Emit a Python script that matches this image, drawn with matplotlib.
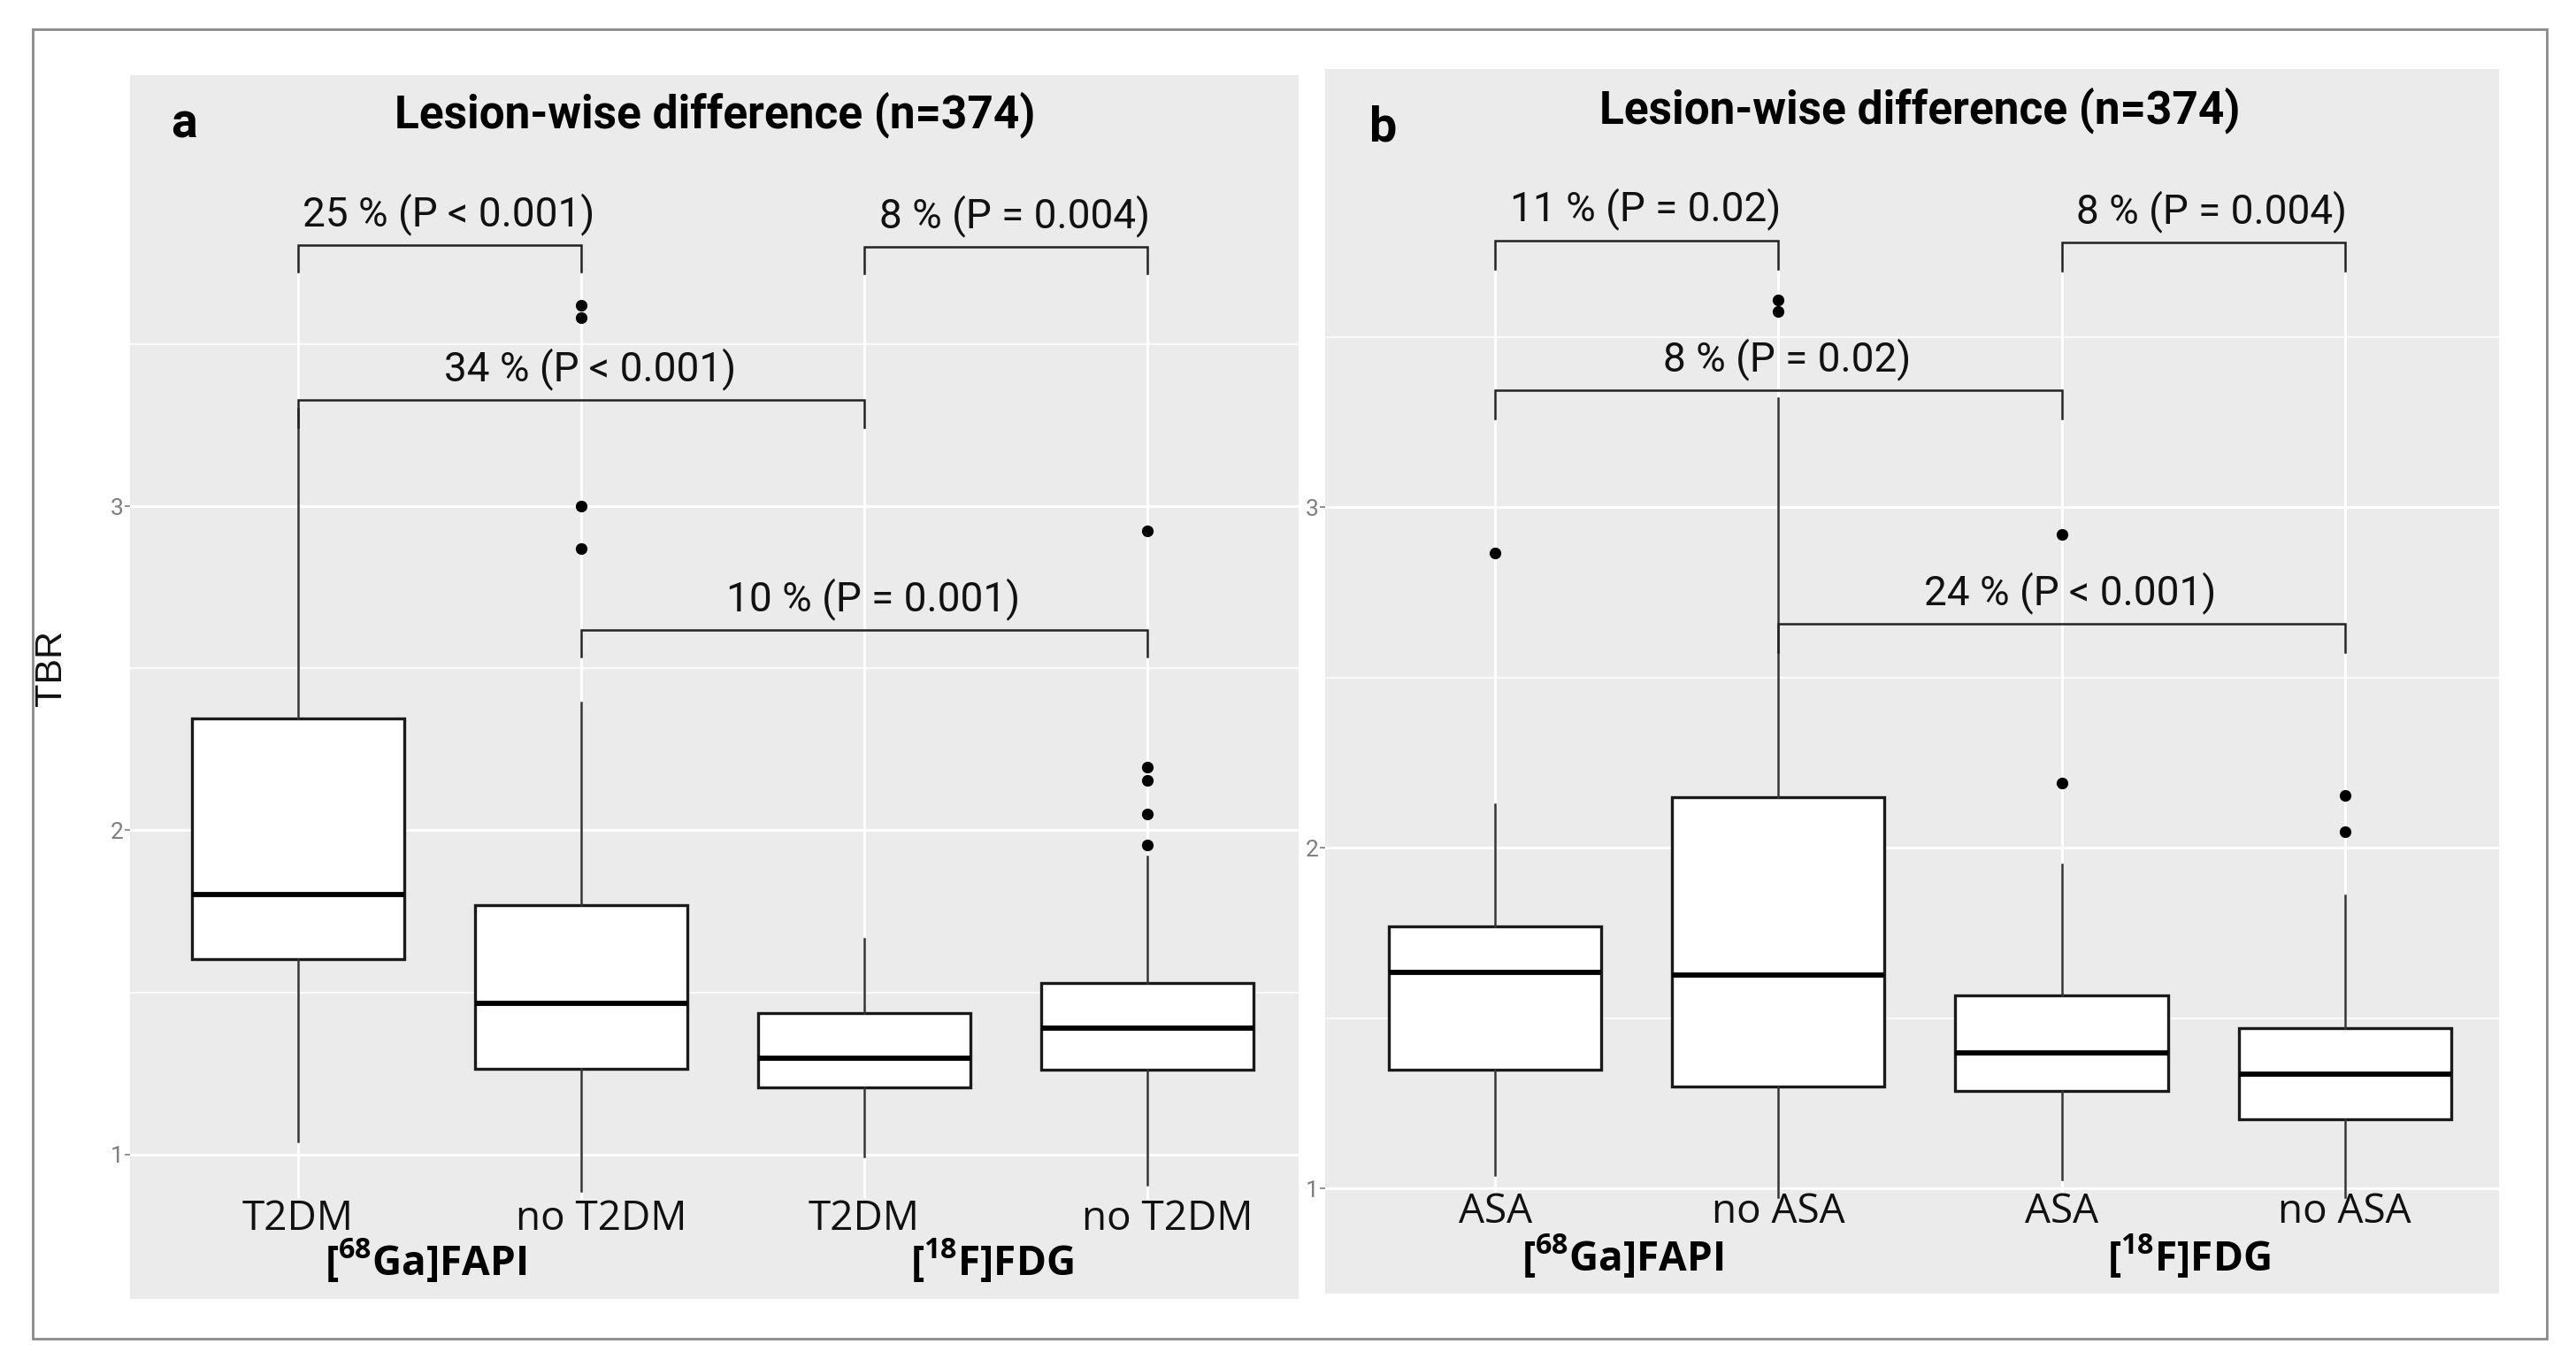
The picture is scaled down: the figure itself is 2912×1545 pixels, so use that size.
import matplotlib
matplotlib.use("Agg")
import matplotlib.pyplot as plt
from matplotlib.patches import Rectangle

plt.rcParams['mathtext.fontset'] = 'custom'
plt.rcParams['mathtext.rm'] = 'Open Sans'
plt.rcParams['mathtext.bf'] = 'Open Sans:bold'

# ---- data: panel a (T2DM) ----
a_cats = ["T2DM", "no T2DM", "T2DM", "no T2DM"]
a_q1 = [1.603, 1.265, 1.207, 1.262]
a_med = [1.802, 1.467, 1.297, 1.390]
a_q3 = [2.345, 1.770, 1.437, 1.529]
a_lo = [1.040, 0.888, 0.995, 0.907]
a_hi = [3.300, 2.394, 1.666, 1.920]
a_fliers = [[], [2.869, 3.00, 3.58, 3.62], [], [1.955, 2.05, 2.155, 2.195, 2.924]]
a_pairs = [(1, 2), (3, 4), (1, 3), (2, 4)]
a_bar_y = [3.805, 3.800, 3.327, 2.618]
a_br_text = ["25 % (P < 0.001)", "8 % (P = 0.004)", "34 % (P < 0.001)", "10 % (P = 0.001)"]

# ---- data: panel b (ASA) ----
b_cats = ["ASA", "no ASA", "ASA", "no ASA"]
b_q1 = [1.348, 1.300, 1.286, 1.203]
b_med = [1.634, 1.626, 1.397, 1.335]
b_q3 = [1.769, 2.148, 1.566, 1.470]
b_lo = [1.039, 0.974, 1.026, 0.974]
b_hi = [2.127, 3.320, 1.951, 1.860]
b_fliers = [[2.865], [3.575, 3.61], [2.19, 2.92], [2.047, 2.153]]
b_pairs = [(1, 2), (3, 4), (1, 3), (2, 4)]
b_bar_y = [3.784, 3.777, 3.343, 2.657]
b_br_text = ["11 % (P = 0.02)", "8 % (P = 0.004)", "8 % (P = 0.02)", "24 % (P < 0.001)"]

groups = [r"$\mathbf{[^{68}Ga]FAPI}$", r"$\mathbf{[^{18}F]FDG}$"]
title = "Lesion-wise difference (n=374)"

W, H = 2912, 1545
GRAY = "#EBEBEB"
NARROW = ["Roboto", "DejaVu Sans"]
CAT_FONT = ["Open Sans", "Noto Sans", "DejaVu Sans"]

fig = plt.figure(figsize=(W / 100, H / 100), dpi=100)


def fbox(l, t, r, b):
    return [l / W, 1 - b / H, (r - l) / W, (b - t) / H]


def panel(rect, xlim, ylim, grid_y, cats, q1, med, q3, lo, hi, fliers,
          pairs, bar_y, br_text, cat_y, grp_y, cat_nudge):
    ax = fig.add_axes(rect)
    ax.set_facecolor(GRAY)
    for s in ax.spines.values():
        s.set_visible(False)
    ax.set_xlim(*xlim)
    ax.set_ylim(*ylim)
    pos = list(range(1, len(cats) + 1))
    # grid
    for v in [1, 2, 3]:
        ax.axhline(v, color="white", lw=2.2, zorder=0)
    for v in [1.5, 2.5, 3.5]:
        ax.axhline(v, color="white", lw=1.1, zorder=0)
    for p in pos:
        ax.plot([p, p], grid_y, color="white", lw=2.2, zorder=0)
    stats = []
    for i in range(len(cats)):
        stats.append(dict(med=med[i], q1=q1[i], q3=q3[i], whislo=lo[i],
                          whishi=hi[i], fliers=fliers[i]))
    ax.bxp(stats, positions=pos, widths=0.75, patch_artist=True,
           showcaps=False,
           boxprops=dict(facecolor="white", edgecolor="#1a1a1a", lw=2.4),
           medianprops=dict(color="black", lw=4.2, solid_capstyle="butt"),
           whiskerprops=dict(color="#333333", lw=1.8),
           flierprops=dict(marker="o", markerfacecolor="black",
                           markeredgecolor="black", markersize=8.5),
           zorder=2)
    # significance brackets
    leg = 0.083
    for (i, j), y, t in zip(pairs, bar_y, br_text):
        ax.plot([i, i, j, j], [y - leg, y, y, y - leg], color="#222222",
                lw=1.8, zorder=3, solid_joinstyle="miter")
        ax.annotate(t, xy=((i + j) / 2 + 0.03, y), xytext=(0, 8),
                    textcoords="offset points", ha="center", va="bottom",
                    fontsize=33, family=NARROW, color="#111111")
    # category labels
    for p, c in zip(pos, cats):
        nud = cat_nudge if c.startswith("no") else 0
        ax.text(p + nud, cat_y, c, ha="center", va="baseline", fontsize=33,
                family=CAT_FONT, color="#111111")
    ax.text(1.45, grp_y, groups[0], ha="center", va="baseline", fontsize=33)
    ax.text(3.45, grp_y, groups[1], ha="center", va="baseline", fontsize=33)
    ax.set_xticks([])
    ax.set_yticks([1, 2, 3])
    ax.set_yticklabels(["1", "2", "3"], family=NARROW, fontsize=19,
                       color="#7F7F7F")
    ax.tick_params(axis="y", length=4, width=1.2, color="#7F7F7F", pad=1)
    return ax


ax_a = panel(fbox(147, 85, 1468, 1468), (0.406, 4.534), (0.555, 4.329),
             [0.87, 3.718], a_cats, a_q1, a_med, a_q3, a_lo, a_hi, a_fliers,
             a_pairs, a_bar_y, a_br_text, 0.768, 0.629, 0.07)
ax_b = panel(fbox(1498, 78, 2825, 1462), (0.400, 4.544), (0.691, 4.287),
             [0.98, 3.70], b_cats, b_q1, b_med, b_q3, b_lo, b_hi, b_fliers,
             b_pairs, b_bar_y, b_br_text, 0.899, 0.758, 0.0)
ax_a.set_ylabel("TBR", fontsize=31, family=["Liberation Sans", "DejaVu Sans"],
                color="#111111")
ax_a.yaxis.set_label_coords((78 - 147) / (1468 - 147), (1468 - 755) / (1468 - 85))

# titles and panel letters
fig.text(808 / W, 1 - 144 / H, title, ha="center", va="baseline",
         fontsize=37, fontweight="bold", family=NARROW)
fig.text(2170 / W, 1 - 139 / H, title, ha="center", va="baseline",
         fontsize=37, fontweight="bold", family=NARROW)
fig.text(193 / W, 1 - 156 / H, "a", ha="left", va="baseline",
         fontsize=40, fontweight="bold", family=NARROW)
fig.text(1548 / W, 1 - 160 / H, "b", ha="left", va="baseline",
         fontsize=40, fontweight="bold", family=NARROW)

# outer frame
fig.patches.append(Rectangle((37 / W, 1 - 1513 / H), (2879 - 37) / W,
                             (1513 - 33) / H, transform=fig.transFigure,
                             fill=False, edgecolor="#8A8A8A", lw=2.0))

fig.savefig("out.png", dpi=100)
